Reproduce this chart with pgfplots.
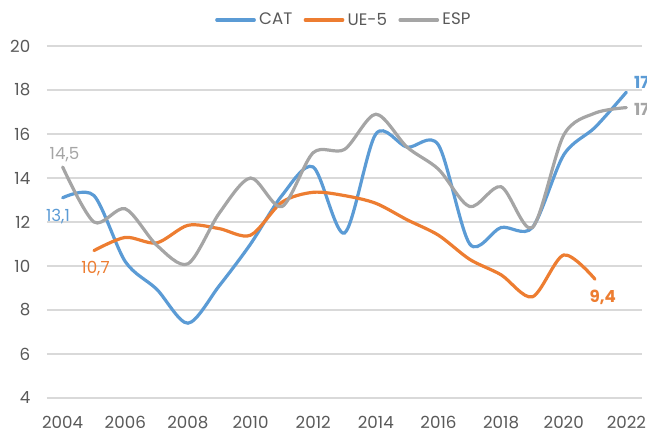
\documentclass[border=0pt]{standalone}
\usepackage{fontspec}
\setmainfont{Poppins}
\usepackage{pgfplots}
\pgfplotsset{compat=1.18}
\definecolor{cblue}{HTML}{5B9BD5}
\definecolor{corange}{HTML}{ED7D31}
\definecolor{cgray}{HTML}{A5A5A5}
\definecolor{ctext}{HTML}{595959}
\definecolor{cgrid}{HTML}{D9D9D9}
\begin{document}
\begin{tikzpicture}
\useasboundingbox (0,0) rectangle (485.25pt,324.75pt);
\clip (0,0) rectangle (485.25pt,324.75pt);
\begin{axis}[
  at={(35.25pt,26.25pt)}, anchor=south west,
  scale only axis, width=446.25pt, height=264pt,
  xmin=2003.5, xmax=2022.5, ymin=4, ymax=20,
  xtick={2004,2006,...,2022}, ytick={4,6,...,20},
  /pgf/number format/1000 sep={},
  /pgf/number format/assume math mode=true,
  axis line style={draw=none},
  major tick length=0pt,
  ymajorgrids, major grid style={cgrid, line width=0.8pt},
  tick label style={font=\fontsize{12.5}{14}\selectfont, text=ctext},
  yticklabel style={xshift=-9pt},
  xticklabel style={yshift=-10pt},
  clip=false,
  legend style={at={(0.5,1)}, anchor=center, yshift=19.5pt, draw=none, fill=none,
    legend columns=3, font=\fontsize{12.5}{14}\selectfont, text=ctext,
    nodes={inner xsep=2.5pt},
    /tikz/every odd column/.append style={column sep=0pt},
    /tikz/every even column/.append style={column sep=6pt}},
  legend image code/.code={\draw[#1, line width=2.5pt, line cap=round] (0pt,0pt) -- (28pt,0pt);},
  every axis plot/.append style={smooth, line width=2.4pt, line cap=round},
]
\addplot[cblue] coordinates {
(2004,13.1) (2005,13.2) (2006,10.2) (2007,8.95) (2008,7.4) (2009,9.1) (2010,11.0)
(2011,13.2) (2012,14.5) (2013,11.5) (2014,16.0) (2015,15.4) (2016,15.5) (2017,11.0)
(2018,11.75) (2019,11.75) (2020,15.05) (2021,16.3) (2022,17.9)};
\addlegendentry{CAT}
\addplot[corange] coordinates {
(2005,10.7) (2006,11.3) (2007,11.05) (2008,11.85) (2009,11.7) (2010,11.4)
(2011,12.9) (2012,13.35) (2013,13.2) (2014,12.85) (2015,12.1) (2016,11.4)
(2017,10.3) (2018,9.6) (2019,8.6) (2020,10.5) (2021,9.4)};
\addlegendentry{UE-5}
\addplot[cgray] coordinates {
(2004,14.5) (2005,12.0) (2006,12.6) (2007,10.95) (2008,10.1) (2009,12.4) (2010,14.0)
(2011,12.7) (2012,15.15) (2013,15.3) (2014,16.9) (2015,15.4) (2016,14.4) (2017,12.7)
(2018,13.6) (2019,11.75) (2020,15.95) (2021,16.95) (2022,17.2)};
\addlegendentry{ESP}
\node[text=cblue, font=\fontsize{12.5}{14}\selectfont] at (axis cs:2003.85,12.27) {13,1};
\node[text=cgray, font=\fontsize{12.5}{14}\selectfont] at (axis cs:2004.06,15.05) {14,5};
\node[text=corange, font=\fontsize{12.5}{14}\selectfont] at (axis cs:2005.05,9.9) {10,7};
\node[text=corange, font=\fontsize{12.5}{14}\bfseries] at (axis cs:2021.25,8.59) {9,4};
\node[text=cblue, font=\fontsize{12.5}{14}\bfseries, anchor=west, inner sep=0pt] at (axis cs:2022.24,18.32) {17,9};
\node[text=cgray, font=\fontsize{12.5}{14}\bfseries, anchor=west, inner sep=0pt] at (axis cs:2022.24,17.09) {17,2};
\end{axis}
\end{tikzpicture}
\end{document}
